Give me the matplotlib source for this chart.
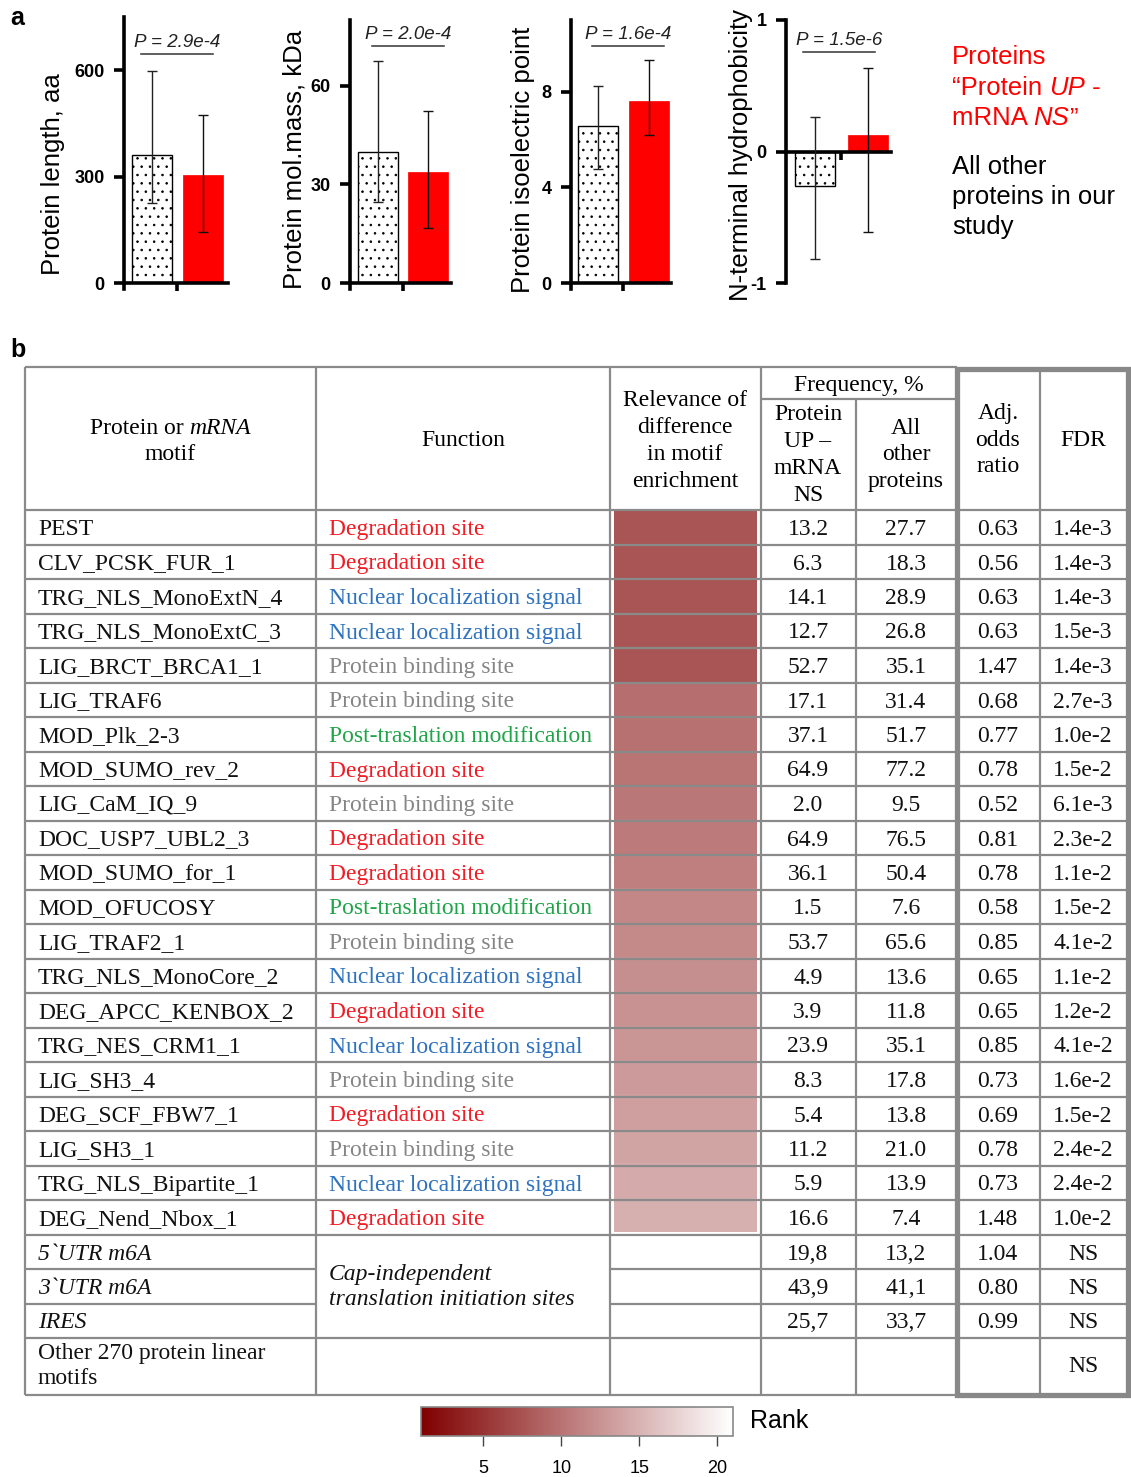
import numpy as np
import matplotlib
matplotlib.use("Agg")
import matplotlib.pyplot as plt
from matplotlib.colors import LinearSegmentedColormap, Normalize
from matplotlib.cm import ScalarMappable

plt.rcParams["font.family"] = ["Liberation Sans", "DejaVu Sans"]
plt.rcParams["hatch.linewidth"] = 0.6

W, H = 1131, 1477

# ---- panel a data ----
ylabels = ["Protein length, aa", "Protein mol.mass, kDa",
           "Protein isoelectric point", "N-terminal hydrophobicity"]
p_values = ["P = 2.9e-4", "P = 2.0e-4", "P = 1.6e-4", "P = 1.5e-6"]
other_mean = [362, 39.9, 6.56, -0.265]
other_low = [226, 24.6, 4.75, -0.82]
other_high = [598, 67.6, 8.22, 0.262]
up_mean = [304, 33.7, 7.61, 0.122]
up_low = [144, 16.6, 6.18, -0.609]
up_high = [474, 52.3, 9.32, 0.632]
y_ticks = [[0, 300, 600], [0, 30, 60], [0, 4, 8], [-1, 0, 1]]
y_limits = [(0, 750), (0, 80), (0, 11), (-1, 1)]

# ---- panel b data ----
motifs = ["PEST", "CLV_PCSK_FUR_1", "TRG_NLS_MonoExtN_4", "TRG_NLS_MonoExtC_3",
          "LIG_BRCT_BRCA1_1", "LIG_TRAF6", "MOD_Plk_2-3", "MOD_SUMO_rev_2",
          "LIG_CaM_IQ_9", "DOC_USP7_UBL2_3", "MOD_SUMO_for_1", "MOD_OFUCOSY",
          "LIG_TRAF2_1", "TRG_NLS_MonoCore_2", "DEG_APCC_KENBOX_2",
          "TRG_NES_CRM1_1", "LIG_SH3_4", "DEG_SCF_FBW7_1", "LIG_SH3_1",
          "TRG_NLS_Bipartite_1", "DEG_Nend_Nbox_1"]
functions = ["Degradation site", "Degradation site", "Nuclear localization signal",
             "Nuclear localization signal", "Protein binding site",
             "Protein binding site", "Post-traslation modification",
             "Degradation site", "Protein binding site", "Degradation site",
             "Degradation site", "Post-traslation modification",
             "Protein binding site", "Nuclear localization signal",
             "Degradation site", "Nuclear localization signal",
             "Protein binding site", "Degradation site", "Protein binding site",
             "Nuclear localization signal", "Degradation site"]
ranks = [1, 1, 1, 1, 1, 4, 4.3, 4.6, 5, 5.5, 6, 7, 7.3, 7.8, 8.2, 8.7,
         9.2, 9.8, 10.3, 11, 11.6]
freq_up = [13.2, 6.3, 14.1, 12.7, 52.7, 17.1, 37.1, 64.9, 2.0, 64.9, 36.1,
           1.5, 53.7, 4.9, 3.9, 23.9, 8.3, 5.4, 11.2, 5.9, 16.6]
freq_other = [27.7, 18.3, 28.9, 26.8, 35.1, 31.4, 51.7, 77.2, 9.5, 76.5, 50.4,
              7.6, 65.6, 13.6, 11.8, 35.1, 17.8, 13.8, 21.0, 13.9, 7.4]
odds = [0.63, 0.56, 0.63, 0.63, 1.47, 0.68, 0.77, 0.78, 0.52, 0.81, 0.78,
        0.58, 0.85, 0.65, 0.65, 0.85, 0.73, 0.69, 0.78, 0.73, 1.48]
fdr = ["1.4e-3", "1.4e-3", "1.4e-3", "1.5e-3", "1.4e-3", "2.7e-3", "1.0e-2",
       "1.5e-2", "6.1e-3", "2.3e-2", "1.1e-2", "1.5e-2", "4.1e-2", "1.1e-2",
       "1.2e-2", "4.1e-2", "1.6e-2", "1.5e-2", "2.4e-2", "2.4e-2", "1.0e-2"]

mrna_motifs = ["5`UTR m6A", "3`UTR m6A", "IRES"]
mrna_freq_up = [19.8, 43.9, 25.7]
mrna_freq_other = [13.2, 41.1, 33.7]
mrna_odds = [1.04, 0.80, 0.99]

function_colors = {
    "Degradation site": "#F21C24",
    "Nuclear localization signal": "#2F72BF",
    "Protein binding site": "#858585",
    "Post-traslation modification": "#20A448",
}

fig = plt.figure(figsize=(W / 100, H / 100), dpi=100)

# full-figure overlay in pixel coordinates (y down)
ov = fig.add_axes([0, 0, 1, 1])
ov.set_xlim(0, W)
ov.set_ylim(H, 0)
ov.axis("off")

renderer = fig.canvas.get_renderer()


def text_width(s, **kw):
    bar = ov.text(0, 0, "|", **kw)
    full = ov.text(0, 0, "|" + s + "|", **kw)
    w = full.get_window_extent(renderer).width - 2 * bar.get_window_extent(renderer).width
    bar.remove()
    full.remove()
    return w


def put_runs(x, y, runs, ha="left", **kw):
    widths = [text_width(s, style=st, **kw) for s, st in runs]
    if ha == "center":
        x = x - sum(widths) / 2
    for (s, st), w in zip(runs, widths):
        ov.text(x, y, s, style=st, ha="left", **kw)
        x += w


def px_axes(left, right, top, bottom):
    return fig.add_axes([left / W, 1 - bottom / H, (right - left) / W, (bottom - top) / H])


# ---------------- panel a ----------------
boxes = [
    (124, 228, 17, 283, 152, 202.5, -0.566, 0.41),
    (350, 451, 20, 283, 377.5, 428, -0.43, 0.47),
    (571, 671, 20, 283, 598, 648.5, -0.36, 0.47),
    (786, 891, 20, 283, 814.5, 867.5, -0.316, 0.485),
]
p_lines = [(141, 213, 54), (372, 444, 46), (592, 664, 46), (803, 875, 52)]

for i, (l, r, t, b, c0, c1, lx, ly) in enumerate(boxes):
    ax = px_axes(l, r, t, b)
    step = c1 - c0
    ax.set_xlim(-(c0 - l) / step, 1 + (r - c1) / step)
    ax.set_ylim(*y_limits[i])
    ax.bar([0], [other_mean[i]], width=40 / step, color="white",
           edgecolor="black", linewidth=1, hatch="..", zorder=2)
    ax.bar([1], [up_mean[i]], width=40 / step, color="#FF0000",
           edgecolor="#FF0000", linewidth=0.5, zorder=2)
    ax.errorbar([0], [other_mean[i]],
                yerr=[[other_mean[i] - other_low[i]], [other_high[i] - other_mean[i]]],
                fmt="none", ecolor="#222222", elinewidth=1, capsize=3.5, capthick=1, zorder=3)
    ax.errorbar([1], [up_mean[i]],
                yerr=[[up_mean[i] - up_low[i]], [up_high[i] - up_mean[i]]],
                fmt="none", ecolor="#111111", elinewidth=1, capsize=3.5, capthick=1, zorder=3)
    for side in ["top", "right"]:
        ax.spines[side].set_visible(False)
    ax.spines["left"].set_linewidth(2.6)
    ax.spines["bottom"].set_linewidth(2.6)
    ymin, ymax = y_limits[i]
    span = ymax - ymin
    if ymin < 0:
        ax.spines["bottom"].set_position(("data", 0))
    else:
        ax.spines["left"].set_bounds(ymin - span * 6 / (b - t), ymax)
    ax.set_yticks(y_ticks[i])
    ax.set_yticklabels([str(v) for v in y_ticks[i]], fontweight="bold")
    ax.set_xticks([0.5])
    ax.set_xticklabels([""])
    ax.tick_params(axis="y", length=7, width=2.6, labelsize=13, pad=7)
    ax.tick_params(axis="x", length=6, width=2.6)
    ax.set_ylabel(ylabels[i], fontsize=18.5)
    ax.yaxis.set_label_coords(lx, ly)
    ax.patch.set_alpha(0)

    x0, x1, yl = p_lines[i]
    ov.plot([x0, x1], [yl, yl], color="#333333", lw=1.1)
    ov.text((x0 + x1) / 2, yl - 3, p_values[i], style="italic", fontsize=13.5,
            ha="center", va="bottom", color="#222222")

# legend texts
leg_kw = dict(fontsize=18.5, va="center")
ov.text(952, 57, "Proteins", color="#FF0000", **leg_kw)
put_runs(952, 88, [("\u201cProtein ", "normal"), ("UP", "italic"), (" -", "normal")],
         color="#FF0000", **leg_kw)
put_runs(952, 118, [("mRNA ", "normal"), ("NS", "italic"), ("\u201d", "normal")],
         color="#FF0000", **leg_kw)
ov.text(952, 197, "All other\nproteins in our\nstudy", color="black",
        linespacing=1.32, **leg_kw)

ov.text(10, 18, "a", fontsize=18, fontweight="bold", va="center")
ov.text(10, 350, "b", fontsize=18, fontweight="bold", va="center")

# ---------------- panel b ----------------
serif = dict(family=["Liberation Serif", "DejaVu Serif"], fontsize=17)
cols = [25, 316, 610, 761, 856, 957, 1040, 1128]
top, sub, head_bottom = 367, 399, 510
rh = 34.5
row_tops = [head_bottom + k * rh for k in range(len(motifs) + 1)]
mrna_top = row_tops[-1]
mrna_lines = [mrna_top, mrna_top + 34.5, mrna_top + 69, mrna_top + 103.5]
bottom = 1395
grid_kw = dict(color="#8a8a8a", lw=1.6, solid_capstyle="butt", zorder=5)

# heat column
rank_cmap = LinearSegmentedColormap.from_list("rank", ["#7F0000", "#FFFFFF"])
rank_norm = Normalize(1, 21)
ov.imshow(np.array(ranks).reshape(-1, 1), cmap=rank_cmap, norm=rank_norm, alpha=0.67,
          extent=(614, 757, row_tops[-1] - 2, row_tops[0] + 1), aspect="auto",
          interpolation="nearest", zorder=1)
ov.set_xlim(0, W)
ov.set_ylim(H, 0)

# grid lines
ov.plot([cols[0], cols[5]], [top, top], **grid_kw)
ov.plot([cols[3], cols[5]], [sub, sub], **grid_kw)
for y in row_tops + [mrna_lines[-1]]:
    ov.plot([cols[0], cols[-1]], [y, y], **grid_kw)
for y in mrna_lines[1:3]:
    ov.plot([cols[0], cols[1]], [y, y], **grid_kw)
    ov.plot([cols[2], cols[-1]], [y, y], **grid_kw)
ov.plot([cols[0], cols[-1]], [bottom, bottom], **grid_kw)
for x in cols:
    y0 = sub if x == 856 else top
    ov.plot([x, x], [y0, bottom], **grid_kw)
ov.add_patch(plt.Rectangle((957, 369), 1128 - 957, bottom - 369, fill=False,
                           edgecolor="#888888", lw=3.8, zorder=6))

# header
ov_c = dict(ha="center", va="center", linespacing=1.37, **serif)
put_runs(170, 428, [("Protein or ", "normal"), ("mRNA", "italic")], ha="center",
         va="center", **serif)
ov.text(170, 454, "motif", **ov_c)
ov.text(463, 440, "Function", **ov_c)
ov.text(685, 441, "Relevance of\ndifference\nin motif\nenrichment", **ov_c)
ov.text(859, 385, "Frequency, %", **ov_c)
ov.text(808, 455, "Protein\nUP \u2013\nmRNA\nNS", **ov_c)
ov.text(906, 455, "All\nother\nproteins", **ov_c)
ov.text(998, 440, "Adj.\nodds\nratio", **ov_c)
ov.text(1083, 440, "FDR", **ov_c)

# body rows
for k in range(len(motifs)):
    yb = row_tops[k] + 25
    ov.text(38, yb, motifs[k], va="baseline", color="#111111", **serif)
    ov.text(329, yb, functions[k], va="baseline", color=function_colors[functions[k]], **serif)
    ov.text(808, yb, f"{freq_up[k]:.1f}", va="baseline", ha="center", color="#111111", **serif)
    ov.text(906, yb, f"{freq_other[k]:.1f}", va="baseline", ha="center", color="#111111", **serif)
    ov.text(998, yb, f"{odds[k]:.2f}", va="baseline", ha="center", color="#111111", **serif)
    ov.text(1083, yb, fdr[k], va="baseline", ha="center", color="#111111", **serif)

for k in range(len(mrna_motifs)):
    yb = mrna_lines[k] + 25
    ov.text(38, yb, mrna_motifs[k], va="baseline", style="italic", color="#111111", **serif)
    ov.text(808, yb, f"{mrna_freq_up[k]:.1f}".replace(".", ","), va="baseline",
            ha="center", color="#111111", **serif)
    ov.text(906, yb, f"{mrna_freq_other[k]:.1f}".replace(".", ","), va="baseline",
            ha="center", color="#111111", **serif)
    ov.text(998, yb, f"{mrna_odds[k]:.2f}", va="baseline", ha="center", color="#111111", **serif)
    ov.text(1083, yb, "NS", va="baseline", ha="center", color="#111111", **serif)

ov.text(329, 1287, "Cap-independent\ntranslation initiation sites", va="center",
        style="italic", linespacing=1.3, color="#111111", **serif)
ov.text(38, 1366, "Other 270 protein linear\nmotifs", va="center", linespacing=1.3,
        color="#111111", **serif)
ov.text(1083, 1366, "NS", va="center", ha="center", color="#111111", **serif)

# colorbar
cax = px_axes(421, 733, 1407, 1436)
cb = fig.colorbar(ScalarMappable(norm=rank_norm, cmap=rank_cmap), cax=cax,
                  orientation="horizontal", ticks=[5, 10, 15, 20])
cb.outline.set_edgecolor("#888888")
cb.outline.set_linewidth(1.2)
cax.tick_params(length=7, width=1, color="#444444", labelsize=13, pad=10)
ov.text(750, 1421, "Rank", fontsize=18, va="center")

fig.savefig("out.png", dpi=100)
